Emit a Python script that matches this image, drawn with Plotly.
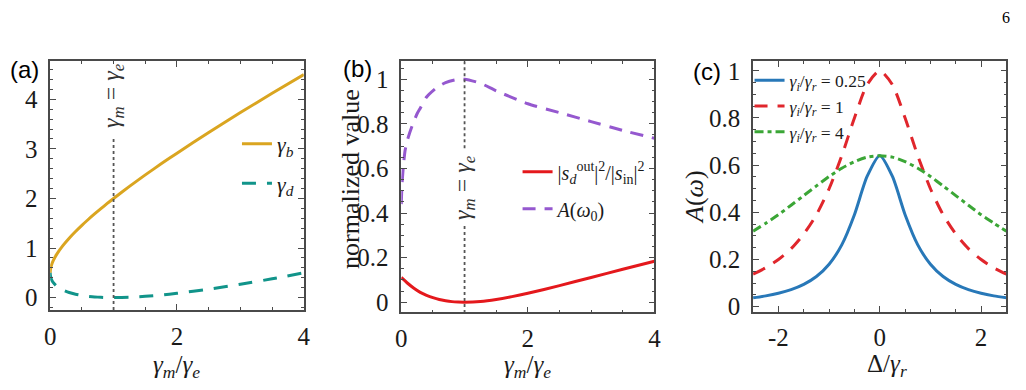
import plotly.graph_objects as go

# ---------------- data ----------------
# panel (a)
a_x = [0, 0.005, 0.02, 0.05, 0.1, 0.2, 0.3, 0.4, 0.5, 0.6, 0.7, 0.8, 0.9, 1.0,
       1.25, 1.5, 1.75, 2.0, 2.5, 3.0, 3.5, 4.0]
gamma_b = [0.5, 0.573, 0.651, 0.749, 0.866, 1.047, 1.198, 1.332, 1.457, 1.575, 1.687,
           1.794, 1.899, 2.0, 2.243, 2.475, 2.698, 2.914, 3.331, 3.732, 4.121, 4.5]
gamma_d = [0.5, 0.432, 0.369, 0.301, 0.234, 0.153, 0.102, 0.068, 0.043, 0.025, 0.013,
           0.006, 0.001, 0.0, 0.007, 0.025, 0.052, 0.086, 0.169, 0.268, 0.379, 0.5]

# panel (b)
b_x_red = [0, 0.1, 0.2, 0.3, 0.4, 0.5, 0.6, 0.7, 0.8, 0.9, 1.0, 1.25, 1.5, 1.75,
           2.0, 2.5, 3.0, 3.5, 4.0]
s_ratio = [0.111, 0.085, 0.0625, 0.044, 0.031, 0.0204, 0.0123, 0.0068, 0.0026, 0.0007,
           0.0, 0.0033, 0.0123, 0.025, 0.040, 0.0744, 0.111, 0.148, 0.184]
b_x_purple = [0, 0.01, 0.03, 0.06, 0.1, 0.17, 0.25, 0.3, 0.4, 0.55, 0.7, 0.85, 1.0,
              1.25, 1.5, 2.0, 2.5, 3.0, 3.5, 4.0]
A_w0 = [0.44, 0.52, 0.60, 0.68, 0.73, 0.79, 0.845, 0.87, 0.92, 0.96, 0.985, 0.997, 1.0,
        0.982, 0.948, 0.89, 0.85, 0.81, 0.77, 0.735]

# panel (c)
c_x = [-2.5, -2.25, -2.0, -1.75, -1.5, -1.25, -1.0, -0.75, -0.5, -0.25, 0,
       0.25, 0.5, 0.75, 1.0, 1.25, 1.5, 1.75, 2.0, 2.25, 2.5]
A_025 = [0.0376, 0.0458, 0.0569, 0.0724, 0.0947, 0.128, 0.180, 0.262, 0.390, 0.552, 0.64,
         0.552, 0.390, 0.262, 0.180, 0.128, 0.0947, 0.0724, 0.0569, 0.0458, 0.0376]
A_1 = [0.138, 0.165, 0.2, 0.246, 0.308, 0.39, 0.5, 0.64, 0.8, 0.941, 1.0,
       0.941, 0.8, 0.64, 0.5, 0.39, 0.308, 0.246, 0.2, 0.165, 0.138]
A_4 = [0.32, 0.354, 0.390, 0.430, 0.471, 0.512, 0.552, 0.587, 0.615, 0.634, 0.64,
       0.634, 0.615, 0.587, 0.552, 0.512, 0.471, 0.430, 0.390, 0.354, 0.32]

# ---------------- styles ----------------
SERIF = "Liberation Serif, Times New Roman, serif"
SANS = "Liberation Sans, Arial, sans-serif"
FRAME = "#4a4a4a"
TXT = "#1a1a1a"

fig = go.Figure()

fig.add_trace(go.Scatter(x=a_x, y=gamma_b, mode="lines", name="<i>γ<sub>b</sub></i>",
                         line=dict(color="#DAA520", width=3, shape="spline", smoothing=0.6),
                         xaxis="x", yaxis="y", legend="legend", legendgroup="ab"))
fig.add_trace(go.Scatter(x=a_x, y=gamma_d, mode="lines", name="<i>γ<sub>d</sub></i>",
                         line=dict(color="#11948A", width=3, dash="14px,11px", shape="spline", smoothing=0.6),
                         xaxis="x", yaxis="y", legend="legend", legendgroup="ad"))

fig.add_trace(go.Scatter(x=b_x_red, y=s_ratio, mode="lines",
                         name="|<i>s</i><sub><i>d</i></sub><sup>out</sup>|<sup>2</sup>/|<i>s</i><sub>in</sub>|<sup>2</sup>",
                         line=dict(color="#E4181C", width=3, shape="spline", smoothing=0.6),
                         xaxis="x2", yaxis="y2", legend="legend2", legendgroup="br"))
fig.add_trace(go.Scatter(x=b_x_purple, y=A_w0, mode="lines", name="<i>A</i>(<i>ω</i><sub>0</sub>)",
                         line=dict(color="#9558CF", width=3, dash="13px,9px", shape="spline", smoothing=0.6),
                         xaxis="x2", yaxis="y2", legend="legend2", legendgroup="bp"))

fig.add_trace(go.Scatter(x=c_x, y=A_025, mode="lines",
                         name="<i>γ<sub>i</sub></i>/<i>γ<sub>r</sub></i> = 0.25",
                         line=dict(color="#2878B8", width=3, shape="spline", smoothing=0.7),
                         xaxis="x3", yaxis="y3", legend="legend3", legendgroup="c1"))
fig.add_trace(go.Scatter(x=c_x, y=A_1, mode="lines",
                         name="<i>γ<sub>i</sub></i>/<i>γ<sub>r</sub></i> = 1",
                         line=dict(color="#E0262C", width=3, dash="13px,10px", shape="spline", smoothing=0.7),
                         xaxis="x3", yaxis="y3", legend="legend3", legendgroup="c2"))
fig.add_trace(go.Scatter(x=c_x, y=A_4, mode="lines",
                         name="<i>γ<sub>i</sub></i>/<i>γ<sub>r</sub></i> = 4",
                         line=dict(color="#3BA636", width=3, dash="9px,4px,4px,4px", shape="spline", smoothing=0.7),
                         xaxis="x3", yaxis="y3", legend="legend3", legendgroup="c3"))


def ax(domain, rng, dtick, minor_dtick, anchor, **kw):
    d = dict(domain=domain, range=rng, anchor=anchor, showgrid=False, zeroline=False,
             showline=True, linecolor=FRAME, linewidth=1.5, mirror="allticks",
             ticks="inside", ticklen=6, tickwidth=1.2, tickcolor=FRAME,
             minor=dict(dtick=minor_dtick, ticks="inside", ticklen=3, tickcolor=FRAME, tickwidth=1),
             tickfont=dict(family=SERIF, size=25, color=TXT), ticklabelstandoff=6,
             fixedrange=True)
    if dtick is not None:
        d["dtick"] = dtick
        d["tick0"] = 0
    d.update(kw)
    return d


fig.update_layout(
    width=1026, height=390, margin=dict(l=0, r=0, t=0, b=0),
    paper_bgcolor="white", plot_bgcolor="white",
    xaxis=ax([0.0436, 0.2940], [0, 4], 2, 0.5, "y", ticklabelstandoff=3),
    yaxis=ax([0.1879, 0.8462], [-0.25, 4.77], 1, 0.2, "x"),
    xaxis2=ax([0.3902, 0.6401], [0, 4], 2, 0.5, "y2", ticklabelstandoff=3),
    yaxis2=ax([0.1813, 0.8462], [-0.046, 1.081], 0.2, 0.05, "x2"),
    xaxis3=ax([0.7375, 0.9876], [-2.5, 2.5], None, 0.5, "y3", ticklabelstandoff=3,
              tickmode="array", tickvals=[-2, 0, 2], ticktext=["-2", "0", "2"]),
    yaxis3=ax([0.1838, 0.8462], [-0.0205, 1.041], 0.2, 0.05, "x3"),
    legend=dict(x=0.228, y=0.683, xanchor="left", yanchor="top", bgcolor="rgba(0,0,0,0)",
                font=dict(family=SERIF, size=22, color=TXT), tracegroupgap=8),
    legend2=dict(x=0.505, y=0.605, xanchor="left", yanchor="top", bgcolor="rgba(0,0,0,0)",
                 font=dict(family=SERIF, size=20, color=TXT), tracegroupgap=8),
    legend3=dict(x=0.734, y=0.843, xanchor="left", yanchor="top", bgcolor="rgba(0,0,0,0)",
                 font=dict(family=SERIF, size=17.5, color=TXT), tracegroupgap=0),
)

# dotted marker lines at gamma_m = gamma_e
dot = dict(color="#555555", width=1.8, dash="dot")
fig.add_shape(type="line", xref="x", yref="y", x0=1, x1=1, y0=-0.25, y1=3.26, line=dot)
fig.add_shape(type="line", xref="x2", yref="y2", x0=1, x1=1, y0=1.081, y1=0.69, line=dot)
fig.add_shape(type="line", xref="x2", yref="y2", x0=1, x1=1, y0=0.342, y1=-0.046, line=dot)

eq = "<i>γ<sub>m</sub></i> = <i>γ<sub>e</sub></i>"


def A(x, y, text, size, family=SERIF, color=TXT, xref="paper", yref="paper", angle=0):
    return dict(x=x, y=y, xref=xref, yref=yref, text=text, textangle=angle, showarrow=False,
                xanchor="center", yanchor="middle", font=dict(family=family, size=size, color=color))


annos = [
    A(1, 4.08, eq, 24, color="#333", xref="x", yref="y", angle=-90),
    A(1, 0.515, eq, 24, color="#333", xref="x2", yref="y2", angle=-90),
    # axis titles
    A(0.1688, 1 - 375 / 390, "<i>γ<sub>m</sub></i>/<i>γ<sub>e</sub></i>", 25),
    A(0.5151, 1 - 375 / 390, "<i>γ<sub>m</sub></i>/<i>γ<sub>e</sub></i>", 25),
    A(0.8699, 1 - 374 / 390, "Δ/<i>γ<sub>r</sub></i>", 25),
    A(349 / 1026, 1 - 182 / 390, "normalized value", 26, angle=-90),
    A(698 / 1026, 1 - 200 / 390, "<i>A</i>(<i>ω</i>)", 26, angle=-90),
    # panel labels
    A(19 / 1026, 1 - 69 / 390, "(a)", 24, family=SANS, color="black"),
    A(356 / 1026, 1 - 68 / 390, "(b)", 24, family=SANS, color="black"),
    A(710 / 1026, 1 - 71 / 390, "(c)", 24, family=SANS, color="black"),
    # page number
    A(1013 / 1026, 1 - 15 / 390, "6", 16, color="black"),
]
fig.update_layout(annotations=annos)

fig.write_html("out.html")
